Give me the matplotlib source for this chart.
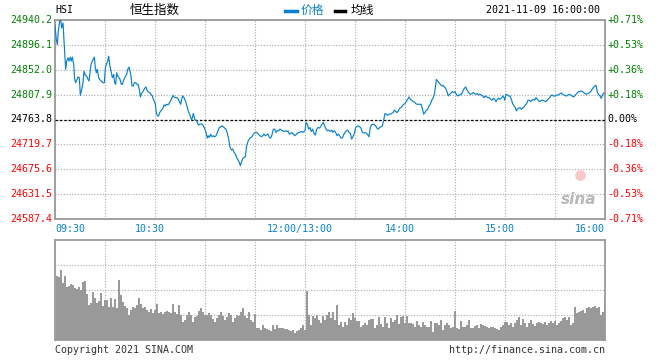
import matplotlib.pyplot as plt
import numpy as np

# HSI intraday, 2021-11-09; minutes counted in trading time from 09:30 (lunch break removed)
prev_close = 24763.8
price_levels = [24587.4, 24631.5, 24675.6, 24719.7, 24763.8, 24807.9, 24852.0, 24896.1, 24940.2]

minute = [0.0, 0.8, 1.4, 2.0, 2.8, 3.4, 4.0, 4.8, 5.4, 6.0, 6.4, 7.0, 7.8, 8.4, 9.2, 9.8, 10.4, 11.2, 11.8, 12.4,
          13.2, 13.8, 14.6, 15.2, 15.8, 16.8, 17.4, 18.2, 19.0, 19.8, 20.4, 21.0, 21.6, 22.4, 23.0, 23.6, 24.2, 24.8,
          25.4, 26.2, 26.8, 27.8, 28.8, 29.6, 30.2, 30.8, 31.6, 32.2, 32.8, 33.6, 34.4, 35.2, 35.8, 36.4, 37.0, 37.6,
          38.4, 39.0, 39.8, 40.4, 41.0, 41.8, 42.4, 43.0, 43.6, 44.4, 45.0, 45.6, 46.2, 47.0, 47.6, 48.4, 49.2, 49.8,
          50.6, 51.2, 51.8, 52.8, 53.8, 54.6, 55.2, 56.0, 56.8, 57.6, 58.4, 59.0, 59.6, 60.2, 60.8, 61.4, 62.2, 62.8,
          63.8, 64.8, 65.4, 66.2, 66.8, 67.8, 68.8, 69.8, 70.8, 71.4, 72.2, 73.2, 73.8, 74.6, 75.4, 76.0, 76.6, 77.4,
          78.4, 79.4, 80.2, 80.8, 81.4, 82.0, 83.0, 83.8, 85.0, 86.0, 87.0, 88.2, 89.0, 89.8, 90.6, 91.4, 92.0, 92.6,
          93.4, 94.2, 95.0, 95.8, 96.6, 97.6, 98.6, 99.4, 100.2, 101.0, 101.8, 102.6, 103.4, 104.2, 105.0, 105.8,
          106.6, 107.4, 108.2, 109.0, 109.8, 110.6, 111.2, 111.8, 112.6, 113.4, 114.2, 115.0, 115.8, 116.6, 117.4,
          118.2, 119.0, 120.0, 121.0, 122.0, 123.0, 123.8, 124.6, 125.4, 126.2, 127.0, 127.8, 128.6, 129.4, 130.2,
          131.0, 131.8, 132.6, 133.4, 134.2, 135.0, 135.8, 136.6, 137.4, 138.2, 139.0, 139.8, 140.6, 141.4, 142.2,
          143.0, 143.8, 144.6, 145.4, 146.2, 147.0, 147.8, 148.6, 149.4, 150.0, 150.6, 151.4, 152.2, 153.0, 153.8,
          154.6, 155.4, 156.2, 157.0, 157.8, 158.6, 159.4, 160.2, 161.0, 161.8, 162.6, 163.4, 164.2, 165.2, 166.0,
          166.8, 167.6, 168.4, 169.2, 170.0, 170.8, 171.6, 172.4, 173.2, 174.0, 174.8, 175.6, 176.4, 177.2, 178.0,
          178.8, 179.6, 180.4, 181.2, 182.0, 182.8, 183.6, 184.4, 185.2, 186.0, 186.8, 187.6, 188.4, 189.2, 190.0,
          190.8, 191.6, 192.4, 193.2, 194.0, 194.8, 195.6, 196.4, 197.2, 198.0, 198.8, 199.6, 200.4, 201.2, 202.0,
          202.8, 203.6, 204.4, 205.2, 206.0, 206.8, 207.6, 208.4, 209.2, 210.0, 210.8, 211.6, 212.4, 213.2, 214.0,
          214.8, 215.6, 216.4, 217.2, 218.0, 218.8, 219.6, 220.4, 221.2, 222.0, 222.8, 223.6, 224.4, 225.2, 226.0,
          226.8, 227.6, 228.2, 228.8, 229.6, 230.4, 231.2, 232.0, 232.8, 233.6, 234.4, 235.2, 236.0, 236.8, 237.6,
          238.4, 239.2, 240.0, 240.8, 241.6, 242.4, 243.2, 244.0, 244.8, 245.6, 246.4, 247.0, 247.8, 248.6, 249.4,
          250.2, 251.0, 251.8, 252.6, 253.4, 254.2, 255.0, 255.8, 256.6, 257.4, 258.2, 259.0, 259.8, 260.6, 261.4,
          262.2, 263.0, 263.8, 264.6, 265.4, 266.2, 267.0, 267.8, 268.6, 269.4, 269.8, 270.6, 271.4, 272.2, 273.0,
          273.8, 274.6, 275.4, 276.2, 276.8, 277.4, 278.2, 279.0, 279.8, 280.6, 281.4, 282.2, 283.0, 283.8, 284.6,
          285.4, 286.2, 287.0, 287.8, 288.6, 289.4, 290.2, 291.0, 291.8, 292.6, 293.4, 294.2, 295.0, 295.8, 296.6,
          297.4, 298.2, 299.0, 299.8, 300.6, 301.4, 302.2, 303.0, 303.8, 304.6, 305.4, 306.2, 307.0, 307.8, 308.6,
          309.4, 310.2, 311.0, 311.8, 312.6, 313.4, 314.2, 315.0, 315.8, 316.6, 317.4, 318.2, 319.0, 319.8, 320.6,
          321.4, 322.2, 323.0, 323.8, 324.6, 325.4, 326.2, 327.0, 327.8, 328.6, 329.4]

price = [24930.8, 24905.5, 24896.7, 24920.2, 24937.8, 24940.2, 24926.1, 24934.9, 24902.6, 24873.2, 24852.6, 24867.3,
         24873.2, 24867.3, 24874.3, 24867.3, 24874.3, 24861.4, 24834.9, 24829.1, 24834.9, 24839.1, 24837.9, 24806.7,
         24814.4, 24829.1, 24849.6, 24842.0, 24840.8, 24834.9, 24832.0, 24846.7, 24861.4, 24867.3, 24871.4, 24874.3,
         24855.5, 24846.7, 24852.6, 24837.9, 24834.9, 24832.0, 24829.1, 24829.1, 24855.5, 24861.4, 24867.3, 24876.1,
         24861.4, 24849.6, 24837.9, 24843.8, 24829.1, 24826.1, 24846.7, 24840.8, 24837.9, 24834.9, 24826.1, 24826.1,
         24832.0, 24837.9, 24840.8, 24843.8, 24852.6, 24856.7, 24849.6, 24840.8, 24823.2, 24823.2, 24829.1, 24829.1,
         24826.1, 24826.1, 24817.3, 24803.8, 24809.7, 24813.2, 24819.1, 24821.4, 24815.5, 24812.6, 24811.4, 24808.5,
         24805.5, 24799.7, 24795.6, 24790.8, 24776.1, 24770.3, 24770.3, 24776.1, 24780.3, 24783.8, 24789.7, 24787.9,
         24790.8, 24789.7, 24793.8, 24799.7, 24806.7, 24803.8, 24802.6, 24802.6, 24800.8, 24795.6, 24790.8, 24799.7,
         24805.5, 24802.6, 24795.6, 24785.0, 24776.1, 24773.2, 24767.3, 24762.6, 24774.4, 24764.4, 24761.4, 24753.8,
         24755.6, 24755.6, 24752.6, 24747.9, 24740.9, 24730.9, 24735.0, 24732.0, 24737.9, 24733.2, 24735.0, 24733.2,
         24735.0, 24742.6, 24749.7, 24750.9, 24752.6, 24750.9, 24748.5, 24746.7, 24739.1, 24729.1, 24714.4, 24709.7,
         24711.5, 24705.6, 24702.6, 24696.8, 24692.1, 24687.9, 24682.1, 24687.9, 24693.8, 24696.8, 24697.9, 24717.3,
         24725.0, 24729.1, 24732.0, 24733.2, 24737.9, 24740.9, 24740.9, 24737.9, 24735.0, 24733.2, 24735.0, 24737.9,
         24735.0, 24736.8, 24737.9, 24732.0, 24730.9, 24736.8, 24746.7, 24746.7, 24740.9, 24743.8, 24743.8, 24746.7,
         24745.0, 24743.8, 24742.6, 24743.8, 24742.6, 24743.8, 24737.9, 24739.1, 24740.9, 24737.9, 24735.0, 24736.8,
         24739.1, 24740.9, 24740.9, 24742.6, 24740.9, 24742.6, 24743.8, 24758.5, 24755.6, 24746.7, 24749.7, 24742.6,
         24746.7, 24739.1, 24736.2, 24746.7, 24749.7, 24748.5, 24750.9, 24755.6, 24758.5, 24752.6, 24746.7, 24743.8,
         24745.0, 24742.6, 24745.0, 24740.9, 24743.8, 24740.9, 24735.0, 24737.9, 24735.0, 24730.9, 24730.9, 24736.8,
         24740.9, 24743.8, 24745.0, 24740.9, 24739.1, 24729.1, 24733.2, 24739.1, 24749.7, 24751.5, 24752.6, 24750.9,
         24748.5, 24740.9, 24739.7, 24740.3, 24739.7, 24736.8, 24733.2, 24749.7, 24754.4, 24755.6, 24754.4, 24752.6,
         24748.5, 24746.7, 24749.7, 24750.9, 24752.6, 24762.6, 24774.4, 24773.2, 24771.4, 24773.2, 24773.2, 24774.4,
         24776.1, 24780.3, 24777.9, 24776.1, 24779.1, 24783.8, 24785.0, 24787.9, 24790.8, 24792.0, 24795.6, 24799.7,
         24803.8, 24799.7, 24797.9, 24795.6, 24795.0, 24792.0, 24790.8, 24790.8, 24790.8, 24790.8, 24783.8, 24773.2,
         24776.1, 24780.3, 24782.0, 24787.9, 24790.8, 24797.9, 24801.4, 24808.5, 24820.2, 24834.9, 24832.0, 24829.1,
         24826.1, 24823.2, 24824.4, 24821.4, 24819.1, 24813.2, 24805.5, 24808.5, 24810.8, 24813.2, 24811.4, 24813.2,
         24808.5, 24805.5, 24807.3, 24807.3, 24809.7, 24814.4, 24819.1, 24821.4, 24817.3, 24813.2, 24809.7, 24808.5,
         24809.7, 24811.4, 24809.7, 24808.5, 24809.7, 24807.3, 24808.5, 24807.3, 24805.5, 24802.6, 24805.5, 24803.8,
         24802.6, 24802.6, 24799.7, 24797.9, 24801.4, 24799.7, 24795.6, 24799.7, 24801.4, 24799.7, 24801.4, 24805.5,
         24802.6, 24797.9, 24808.5, 24807.3, 24805.5, 24805.5, 24799.7, 24792.0, 24787.9, 24785.0, 24779.1, 24782.0,
         24783.8, 24785.0, 24782.0, 24783.8, 24786.1, 24789.7, 24792.0, 24797.9, 24797.9, 24795.6, 24797.9, 24799.7,
         24797.9, 24802.6, 24799.7, 24796.7, 24795.6, 24797.9, 24797.9, 24796.7, 24795.6, 24796.7, 24799.7, 24801.4,
         24805.5, 24807.3, 24805.5, 24805.5, 24806.1, 24807.3, 24807.3, 24809.7, 24810.8, 24808.5, 24807.3, 24806.1,
         24805.5, 24807.3, 24808.5, 24807.3, 24805.5, 24803.8, 24805.5, 24808.5, 24810.8, 24813.2, 24813.2, 24814.4,
         24813.2, 24810.8, 24809.7, 24808.5, 24809.7, 24811.4, 24813.2, 24817.3, 24820.2, 24823.2, 24824.4, 24811.4,
         24808.5, 24805.5, 24801.4, 24808.5, 24810.8]

# volume bars, relative height (0-100 = full panel), one bar about every 1.2 trading minutes
volume = [64, 63, 70, 57, 64, 53, 54, 56, 55, 52, 51, 53, 50, 58, 59, 46, 35, 37, 48, 42, 37, 39, 47, 34, 40,
          40, 33, 42, 33, 41, 32, 60, 45, 38, 34, 32, 25, 30, 33, 32, 35, 42, 36, 32, 33, 30, 28, 31, 27, 30,
          36, 27, 28, 26, 28, 29, 28, 27, 36, 28, 26, 35, 25, 18, 20, 25, 28, 25, 18, 23, 24, 29, 32, 28, 25,
          25, 27, 25, 21, 18, 22, 25, 28, 24, 20, 23, 27, 25, 18, 22, 25, 24, 28, 32, 24, 22, 28, 20, 18, 26,
          12, 12, 10, 15, 12, 11, 10, 9, 15, 11, 15, 12, 12, 12, 11, 11, 10, 9, 10, 7, 9, 10, 12, 15, 10,
          49, 25, 15, 24, 22, 25, 20, 17, 24, 20, 25, 28, 22, 28, 20, 35, 15, 18, 13, 18, 15, 22, 20, 27, 22,
          19, 19, 13, 15, 17, 15, 20, 21, 21, 12, 15, 23, 16, 13, 23, 17, 12, 22, 18, 20, 25, 16, 23, 24, 17,
          24, 17, 17, 16, 13, 19, 15, 13, 18, 15, 13, 13, 19, 8, 17, 17, 15, 20, 10, 15, 17, 15, 12, 13, 29,
          12, 11, 19, 13, 13, 15, 20, 12, 12, 14, 15, 12, 16, 15, 14, 13, 12, 13, 13, 12, 11, 10, 13, 15, 18,
          18, 15, 17, 13, 17, 20, 23, 15, 21, 17, 13, 17, 20, 16, 14, 17, 18, 17, 16, 18, 15, 17, 19, 17, 19,
          15, 17, 19, 22, 23, 20, 23, 15, 17, 33, 27, 28, 29, 30, 27, 32, 33, 32, 33, 34, 32, 33, 25, 28, 38]

time_ticks = [0, 60, 150, 210, 270, 330]
time_labels = ['09:30', '10:30', '12:00/13:00', '14:00', '15:00', '16:00']

GRID = '#aaaaaa'
FRAME = '#999999'
GREEN = '#008000'
RED = '#ff0000'
BLUE = '#0a80d0'
MONO = 'DejaVu Sans Mono'

fig = plt.figure(figsize=(6.6, 3.6), dpi=100)
ax = fig.add_axes([55 / 660, 1 - 219 / 360, 550 / 660, 199 / 360])
axv = fig.add_axes([55 / 660, 1 - 340 / 360, 550 / 660, 100 / 360])

for a in (ax, axv):
    a.set_xlim(0, 330)
    a.set_xticks(range(0, 331, 30))
    a.tick_params(length=0, labelleft=False, labelbottom=False)
    a.grid(True, color=GRID, linestyle=(0, (1, 1.5)), linewidth=0.8)
    for s in a.spines.values():
        s.set_color(FRAME)
        s.set_linewidth(1.3)

# price panel
ax.set_ylim(price_levels[0], price_levels[-1])
ax.set_yticks(price_levels)
ax.axhline(prev_close, color='black', linestyle=(0, (2, 1.5)), linewidth=0.9, zorder=3)
ax.plot(minute, price, color=BLUE, linewidth=0.85, zorder=4)

for lv in price_levels:
    pct = (lv - prev_close) / prev_close * 100
    if abs(pct) < 1e-6:
        col, ptxt = 'black', '0.00%'
    elif pct > 0:
        col, ptxt = GREEN, f'+{pct:.2f}%'
    else:
        col, ptxt = RED, f'{pct:.2f}%'
    ax.text(-0.005, lv, f'{lv:.1f}', transform=ax.get_yaxis_transform(), ha='right', va='center',
            color=col, fontsize=7.2, family=MONO)
    ax.text(1.004, lv, ptxt, transform=ax.get_yaxis_transform(), ha='left', va='center',
            color=col, fontsize=7.2, family=MONO)

for t, lab in zip(time_ticks, time_labels):
    ha = 'left' if t == 0 else ('right' if t == 330 else 'center')
    xt = t if t in (0, 330) else t - 3
    ax.text(xt, -0.025, lab, transform=ax.get_xaxis_transform(), ha=ha, va='top',
            color=BLUE, fontsize=7.2, family=MONO)

# sina watermark
ax.text(0.985, 0.1, 'sina', transform=ax.transAxes, ha='right', va='center', fontsize=11,
        fontstyle='italic', fontweight='bold', color='#b8b8b8', zorder=2)
ax.scatter([0.955], [0.22], s=60, transform=ax.transAxes, color='#f7c8c8', zorder=2, linewidths=0)

# volume panel
axv.set_ylim(0, 100)
axv.set_yticks([25, 50, 75])
bar_x = (np.arange(len(volume)) + 1) * 330 / len(volume)
axv.bar(bar_x, volume, width=0.75, color='#999999', linewidth=0, zorder=3, antialiased=False)

# header
cjk = ['Noto Sans CJK SC', 'DejaVu Sans']
fig.text(55 / 660, 1 - 10 / 360, 'HSI', fontsize=7.2, family=MONO, va='center', ha='left')
fig.text(155 / 660, 1 - 10 / 360, '恒生指数', fontsize=9, family=cjk, va='center', ha='center')
fig.lines.append(plt.Line2D([285 / 660, 297 / 660], [1 - 11 / 360] * 2, color=BLUE, linewidth=2.5,
                            transform=fig.transFigure))
fig.text(301 / 660, 1 - 10 / 360, '价格', fontsize=8.5, family=cjk, va='center', ha='left', color=BLUE)
fig.lines.append(plt.Line2D([335 / 660, 345 / 660], [1 - 11 / 360] * 2, color='black', linewidth=2.5,
                            transform=fig.transFigure))
fig.text(351 / 660, 1 - 10 / 360, '均线', fontsize=8.5, family=cjk, va='center', ha='left')
fig.text(600 / 660, 1 - 10 / 360, '2021-11-09 16:00:00', fontsize=7.2, family=MONO, va='center', ha='right')

# footer
fig.text(55 / 660, 1 - 350 / 360, 'Copyright 2021 SINA.COM', fontsize=7.2, family=MONO, va='center',
         ha='left', color='#333333')
fig.text(605 / 660, 1 - 350 / 360, 'http://finance.sina.com.cn', fontsize=7.2, family=MONO, va='center',
         ha='right', color='#333333')

fig.savefig('out.png', dpi=100)
